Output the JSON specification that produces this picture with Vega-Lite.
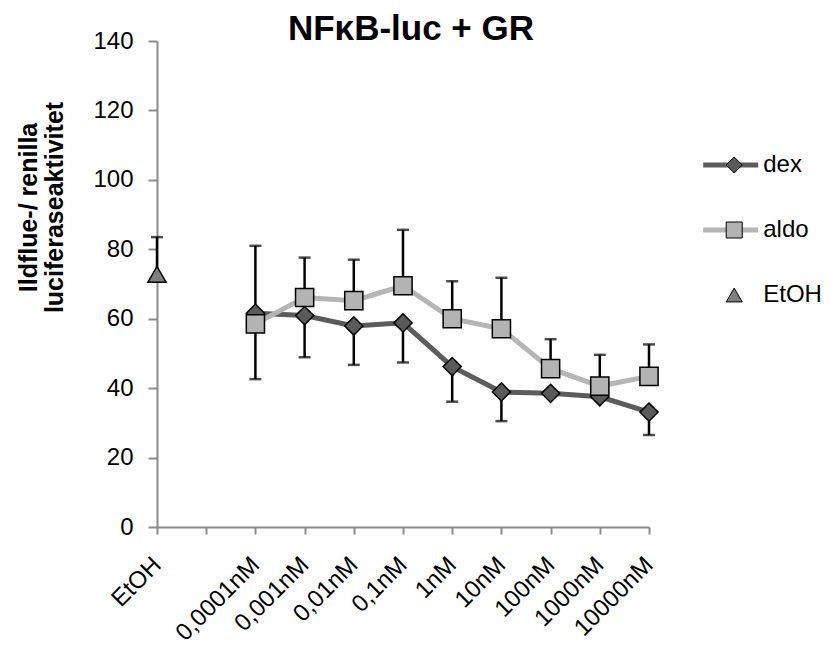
{
  "$schema": "https://vega.github.io/schema/vega-lite/v6.json",
  "autosize": {"type": "none"},
  "padding": {"left": 157, "top": 41, "right": 186, "bottom": 121},
  "width": 492,
  "height": 486,
  "background": "white",
  "config": {
    "font": "Liberation Sans",
    "view": {"stroke": null},
    "axis": {"grid": false, "domainColor": "#8c8c8c", "tickColor": "#8c8c8c", "domainWidth": 2, "tickWidth": 2, "labelColor": "black", "labelFont": "Liberation Sans"}
  },
  "title": {
    "text": "NFκB-luc + GR",
    "fontSize": 35,
    "fontWeight": "bold",
    "font": "Liberation Sans",
    "color": "black",
    "anchor": "middle",
    "frame": "group",
    "baseline": "alphabetic",
    "offset": 0,
    "dx": 8,
    "dy": 46
  },
  "data": {
    "values": [
      {"cat": "EtOH", "series": "EtOH", "value": 72.8, "err": 83.5},
      {"cat": "0,0001nM", "series": "dex", "value": 61.6, "err": 42.6},
      {"cat": "0,001nM", "series": "dex", "value": 60.9, "err": 48.9},
      {"cat": "0,01nM", "series": "dex", "value": 57.9, "err": 46.7},
      {"cat": "0,1nM", "series": "dex", "value": 58.8, "err": 47.4},
      {"cat": "1nM", "series": "dex", "value": 46.2, "err": 36.1},
      {"cat": "10nM", "series": "dex", "value": 38.9, "err": 30.5},
      {"cat": "100nM", "series": "dex", "value": 38.5, "err": null},
      {"cat": "1000nM", "series": "dex", "value": 37.5, "err": null},
      {"cat": "10000nM", "series": "dex", "value": 33.1, "err": 26.5},
      {"cat": "0,0001nM", "series": "aldo", "value": 58.5, "err": 81.0},
      {"cat": "0,001nM", "series": "aldo", "value": 66.1, "err": 77.6},
      {"cat": "0,01nM", "series": "aldo", "value": 65.2, "err": 77.0},
      {"cat": "0,1nM", "series": "aldo", "value": 69.5, "err": 85.6},
      {"cat": "1nM", "series": "aldo", "value": 60.0, "err": 70.8},
      {"cat": "10nM", "series": "aldo", "value": 57.1, "err": 71.8},
      {"cat": "100nM", "series": "aldo", "value": 45.6, "err": 54.1},
      {"cat": "1000nM", "series": "aldo", "value": 40.6, "err": 49.6},
      {"cat": "10000nM", "series": "aldo", "value": 43.4, "err": 52.6}
    ]
  },
  "encoding": {
    "x": {
      "field": "cat",
      "type": "nominal",
      "sort": null,
      "scale": {"type": "point", "padding": 0, "domain": ["EtOH", " ", "0,0001nM", "0,001nM", "0,01nM", "0,1nM", "1nM", "10nM", "100nM", "1000nM", "10000nM"]},
      "axis": {"title": null, "labelAngle": -45, "labelAlign": "right", "labelBaseline": "middle", "labelFontSize": 24, "labelPadding": 27, "tickSize": 7}
    },
    "y": {
      "field": "value",
      "type": "quantitative",
      "scale": {"domain": [0, 140], "nice": false, "zero": true},
      "axis": {
        "values": [0, 20, 40, 60, 80, 100, 120, 140],
        "title": ["Ildflue-/ renilla", "luciferaseaktivitet"],
        "titleFontSize": 25,
        "titleFontWeight": "bold",
        "titleColor": "black",
        "titleX": -129,
        "titleY": 166,
        "titleAngle": -90,
        "titleAlign": "center",
        "titleBaseline": "middle",
        "titleLineHeight": 26,
        "labelFontSize": 24,
        "labelPadding": 15,
        "tickSize": 9
      }
    }
  },
  "layer": [
    {
      "transform": [{"filter": "datum.err != null"}],
      "mark": {"type": "rule", "color": "black", "strokeWidth": 2.5},
      "encoding": {"y2": {"field": "err"}}
    },
    {
      "transform": [{"filter": "datum.err != null"}],
      "mark": {"type": "tick", "color": "black", "thickness": 2.5, "size": 12, "orient": "horizontal"},
      "encoding": {"y": {"field": "err", "type": "quantitative"}}
    },
    {
      "transform": [{"filter": "datum.series != 'EtOH'"}],
      "mark": {"type": "line", "strokeWidth": 5},
      "encoding": {
        "color": {
          "field": "series",
          "type": "nominal",
          "scale": {"domain": ["dex", "aldo"], "range": ["#5c5c5c", "#b5b5b5"]},
          "legend": {
            "title": null,
            "orient": "none",
            "legendX": 543.7,
            "legendY": 114,
            "padding": 0,
            "clipHeight": 20,
            "rowPadding": 41,
            "symbolType": "stroke",
            "symbolSize": 3025,
            "symbolStrokeWidth": 5,
            "labelOpacity": 0,
            "labelFontSize": 24
          }
        }
      }
    },
    {
      "mark": {"type": "point", "filled": true, "stroke": "black", "strokeWidth": 1.5, "opacity": 1, "size": 330},
      "encoding": {
        "fill": {
          "field": "series",
          "type": "nominal",
          "scale": {"domain": ["dex", "aldo", "EtOH"], "range": ["#5a5a5a", "#b3b3b3", "#7f7f7f"]},
          "legend": {
            "title": null,
            "orient": "none",
            "legendX": 565.2,
            "legendY": 114,
            "padding": 0,
            "clipHeight": 20,
            "rowPadding": 41,
            "symbolSize": 256,
            "symbolStrokeColor": "black",
            "symbolStrokeWidth": 1,
            "symbolOpacity": 1,
            "labelFontSize": 24,
            "labelColor": "black",
            "labelOffset": 17,
            "labelExpr": "datum.value == 'EtOH' ? '\u00a0EtOH' : datum.label"
          }
        },
        "shape": {
          "field": "series",
          "type": "nominal",
          "scale": {"domain": ["dex", "aldo", "EtOH"], "range": ["diamond", "square", "triangle-up"]}
        }
      }
    }
  ]
}
